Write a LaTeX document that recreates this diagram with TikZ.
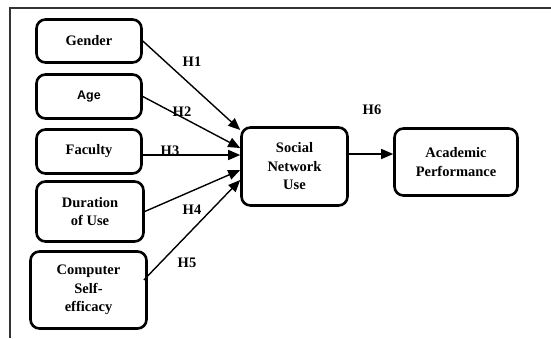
\documentclass[tikz,border=0pt]{standalone}
\usepackage{fontspec}
\setmainfont{Liberation Serif}
\newfontfamily\agefont{Liberation Sans}
\usetikzlibrary{arrows.meta}
\begin{document}
\begin{tikzpicture}[x=1pt,y=-1pt,
  box/.style={draw, line width=2.6pt, rounded corners=9pt, align=center, inner sep=0pt,
    font=\fontsize{14.5}{18.5}\selectfont\bfseries},
  conn/.style={line width=1.4pt, -{Triangle[length=12pt,width=10pt]}},
  hlab/.style={font=\fontsize{14.5}{18.5}\selectfont\bfseries, inner sep=0pt}]
\useasboundingbox (0,0) rectangle (551,338);
\draw[line width=1.3pt, black!80] (10,338) -- (10,8) -- (551,8);
\node[box, minimum width=105pt, minimum height=43pt] (gender) at (89,41) {Gender};
\node[box, minimum width=105pt, minimum height=44pt, font=\fontsize{12.5}{15}\selectfont\agefont\bfseries] (age) at (89,96.5) {Age};
\node[box, minimum width=105pt, minimum height=44pt] (faculty) at (89,151.5) {Faculty};
\node[box, minimum width=107pt, minimum height=60pt] (duration) at (90,211.5) {Duration\\of Use};
\node[box, minimum width=116pt, minimum height=77pt] (computer) at (88.5,290) {Computer\\Self-\\efficacy};
\node[box, minimum width=106pt, minimum height=78pt] (snu) at (294.5,166.5) {Social\\Network\\Use};
\node[box, minimum width=123pt, minimum height=67pt] (ap) at (456,162) {Academic\\Performance};
\draw[conn] (gender.east) -- ([yshift=36.5pt]snu.west);
\draw[conn] (age.east) -- ([yshift=18.5pt]snu.west);
\draw[conn] ([yshift=-3.5pt]faculty.east) -- ([yshift=11.5pt]snu.west);
\draw[conn] (duration.east) -- ([yshift=-3.5pt]snu.west);
\draw[conn] ([yshift=10pt,xshift=-4pt]computer.east) -- ([yshift=-13.5pt]snu.west);
\draw[conn] ([yshift=12.5pt]snu.east) -- ([yshift=8pt]ap.west);
\node[hlab] (h1) at (192,62) {H1};
\node[hlab] (h2) at (182,112) {H2};
\node[hlab] (h3) at (170,151) {H3};
\node[hlab] (h4) at (192,210) {H4};
\node[hlab] (h5) at (187,263) {H5};
\node[hlab] (h6) at (372,110) {H6};
\end{tikzpicture}
\end{document}
